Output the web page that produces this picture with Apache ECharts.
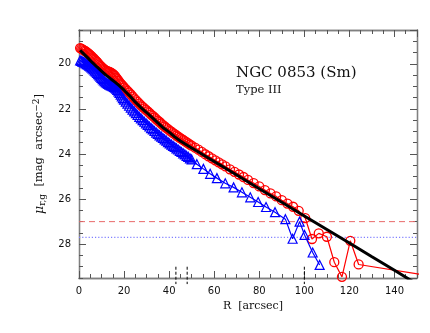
<!DOCTYPE html>
<html><head><meta charset="utf-8">
<script src="https://cdn.jsdelivr.net/npm/echarts@6/dist/echarts.min.js"></script>
<style>html,body{margin:0;padding:0;background:#fff}#c{width:430px;height:333px}</style>
</head><body><div id="c"></div>
<script>
// ---- data ----
const redR  = [0.5,1,1.5,2,2.5,3,3.5,4,4.5,5,5.5,6,6.5,7,7.5,8,8.5,9,9.5,10,10.5,11,11.5,12,12.5,13,13.5,14,14.5,15,15.5,16,16.5,17,17.5,18,18.5,19,19.5,20,
  20.75,21.5,22.25,23,23.75,24.5,25.25,26,26.75,27.5,28.25,29,29.75,30.5,31.25,32,32.75,33.5,34.25,35,35.75,36.5,37.25,38,38.75,39.5,40.25,41,41.75,42.5,43.25,44,44.75,45.5,46.25,47,47.75,48.5,49.25,50,
  51.5,53,54.5,56,57.5,59,60.5,62,63.5,65,67,69,71,73,75,77.5,80,82.5,85,87.5,90,92.5,95,97.5,100.4,103.4,106.4,110,113.3,116.7,120.4,124.1,165];
const redMu = [19.30,19.33,19.36,19.39,19.42,19.45,19.49,19.53,19.57,19.61,19.66,19.71,19.76,19.81,19.87,19.92,19.98,20.04,20.09,20.14,20.19,20.23,20.27,20.30,20.32,20.34,20.36,20.38,20.41,20.45,20.49,20.55,20.61,20.68,20.75,20.82,20.88,20.94,20.99,21.05,
  21.12,21.20,21.28,21.36,21.45,21.53,21.61,21.69,21.77,21.84,21.91,21.98,22.04,22.11,22.18,22.25,22.31,22.38,22.45,22.52,22.58,22.65,22.72,22.78,22.84,22.90,22.96,23.01,23.07,23.12,23.18,23.23,23.28,23.33,23.38,23.43,23.48,23.53,23.58,23.63,
  23.72,23.81,23.91,24.01,24.10,24.19,24.28,24.37,24.46,24.55,24.68,24.79,24.91,25.02,25.15,25.29,25.44,25.60,25.75,25.88,26.05,26.20,26.34,26.52,26.84,27.77,27.52,27.67,28.80,29.45,27.85,28.90,29.55];
const blueR  = [0.5,1,1.5,2,2.5,3,3.5,4,4.5,5,5.5,6,6.5,7,7.5,8,8.5,9,9.5,10,10.5,11,11.5,12,12.5,13,13.5,14,14.5,15,15.5,16,16.5,17,17.5,18,18.5,19,19.5,20,
  20.75,21.5,22.25,23,23.75,24.5,25.25,26,26.75,27.5,28.25,29,29.75,30.5,31.25,32,32.75,33.5,34.25,35,35.75,36.5,37.25,38,38.75,39.5,40.25,41,41.75,42.5,43.25,44,44.75,45.5,46.25,47,47.75,48.5,49.25,50,
  52.3,55.2,58.2,61.2,64.9,68.6,72.3,76,79.5,83,87,91.6,94.8,97.9,100.1,103.7,106.8];
const blueMu = [19.85,19.87,19.90,19.92,19.95,19.98,20.01,20.04,20.08,20.12,20.16,20.20,20.25,20.30,20.35,20.40,20.46,20.51,20.57,20.62,20.68,20.73,20.78,20.82,20.86,20.89,20.92,20.95,20.97,20.99,21.02,21.06,21.10,21.16,21.22,21.29,21.37,21.45,21.52,21.59,
  21.68,21.77,21.86,21.94,22.03,22.11,22.19,22.27,22.35,22.42,22.50,22.57,22.64,22.71,22.78,22.85,22.91,22.98,23.05,23.11,23.17,23.23,23.29,23.35,23.41,23.47,23.53,23.58,23.64,23.69,23.75,23.80,23.86,23.91,23.97,24.02,24.08,24.13,24.19,24.24,
  24.45,24.66,24.88,25.07,25.30,25.48,25.70,25.92,26.13,26.35,26.58,26.89,27.76,27.00,27.59,28.37,28.92];
const fitR  = [0.5,2,4,6,8,10,12,14,16,18,20,22.5,25,27.5,30,32.5,35,37.5,40,42.5,45,47.5,50,52.5,55,60,70,80,90,100,110,120,130,140,150];
const fitMu = [19.40,19.55,19.75,19.95,20.14,20.32,20.50,20.66,20.81,20.98,21.17,21.42,21.70,21.94,22.16,22.39,22.62,22.85,23.03,23.24,23.42,23.58,23.73,23.88,24.03,24.33,24.93,25.54,26.14,26.75,27.35,27.95,28.56,29.16,29.77];
const breakRadii = [43, 48, 100];
const skyLimitR = 27.0;
const skyLimitG = 27.7;
const xTickLabels = [0,20,40,60,80,100,120,140];
const yTickLabels = [20,22,24,26,28];
const titleText = 'NGC 0853 (Sm)';
const typeText = 'Type III';

// ---- chart ----
const zip = (a,b) => a.map((v,i)=>[v,b[i]]);
const redData = zip(redR, redMu).map((p,i)=> i===redR.length-1 ? {value:p, symbol:'none'} : p);
const AX = '#808080';
const X0=0, X1=150, Y0=18.5, Y1=29.5;
function xa(pos, interval, len, labels){
  return {type:'value', position:pos, min:X0, max:X1, interval:interval,
    axisLine:{show:true, onZero:false, lineStyle:{color:AX,width:1.3}},
    axisTick:{show:true, inside:true, length:len, lineStyle:{color:'#555',width:1}},
    axisLabel:{show:labels, margin:8, color:'#111', fontFamily:'DejaVu Sans', fontSize:10, showMaxLabel:false,
      formatter: v => xTickLabels.indexOf(v)>=0 ? String(v) : ''},
    splitLine:{show:false}};
}
function ya(pos, interval, len, labels){
  const o = {type:'value', position:pos, min:Y0, max:Y1, inverse:true,
    axisLine:{show:true, onZero:false, lineStyle:{color:AX,width:1.3}},
    axisTick:{show:true, inside:true, length:len, lineStyle:{color:'#555',width:1}},
    axisLabel:{show:labels, margin:8, color:'#111', fontFamily:'DejaVu Sans', fontSize:10, showMinLabel:false, showMaxLabel:false,
      formatter: v => yTickLabels.indexOf(v)>=0 ? String(v) : ''},
    splitLine:{show:false}};
  if (interval) o.interval = interval; else o.splitNumber = 5;
  return o;
}
const xAxes = [xa('bottom',5,4,false), xa('bottom',20,7,true), xa('top',5,4,false), xa('top',20,7,false)];
xAxes[1].name = 'R  [arcsec]';
xAxes[1].nameLocation = 'middle';
xAxes[1].nameGap = 18;
xAxes[1].nameTextStyle = {fontFamily:'DejaVu Serif', fontSize:11, color:'#111', padding:[0,0,0,10]};
const yAxes = [ya('left',0.5,4,false), ya('left',null,7,true), ya('right',0.5,4,false), ya('right',null,7,false)];
yAxes[1].name = '{mu|μ}{sub|r,g}  [mag  arcsec{sup|−2}]';
yAxes[1].nameLocation = 'middle';
yAxes[1].nameRotate = 90;
yAxes[1].nameGap = 32;
yAxes[1].nameTextStyle = {fontFamily:'DejaVu Serif', fontSize:11.5, color:'#111',
  rich:{mu:{fontFamily:'DejaVu Serif', fontSize:12.5, fontStyle:'italic', color:'#111'},
        sub:{fontFamily:'DejaVu Serif', fontSize:9, color:'#111', padding:[6,0,0,0]},
        sup:{fontFamily:'DejaVu Serif', fontSize:9, color:'#111', padding:[0,0,6,0]}}};

const series = [
  {type:'line', data:[[X0,skyLimitR],[X1,skyLimitR]], xAxisIndex:1, yAxisIndex:1, symbol:'none', z:1,
   lineStyle:{color:'#e86a6a', type:[6,4], width:1}, animation:false},
  {type:'line', data:[[X0,skyLimitG],[X1,skyLimitG]], xAxisIndex:1, yAxisIndex:1, symbol:'none', z:1,
   lineStyle:{color:'#7f7fff', type:[1.2,2], width:1.2}, animation:false},
  {type:'line', data:redData, xAxisIndex:1, yAxisIndex:1, symbol:'circle', symbolSize:9, z:2,
   itemStyle:{color:'transparent', borderColor:'#ff0000', borderWidth:1.3},
   lineStyle:{color:'#ff0000', width:1.2}, animation:false},
  {type:'line', data:zip(blueR, blueMu), xAxisIndex:1, yAxisIndex:1, symbol:'triangle', symbolSize:9, z:3,
   itemStyle:{color:'transparent', borderColor:'#0000ff', borderWidth:1.2},
   lineStyle:{color:'#0000ff', width:1.2}, animation:false},
  {type:'line', data:zip(fitR, fitMu), xAxisIndex:1, yAxisIndex:1, symbol:'none', z:4,
   lineStyle:{color:'#000', width:3}, animation:false}
];
breakRadii.forEach(r => series.push({type:'line', xAxisIndex:1, yAxisIndex:1, data:[[r,29.0],[r,29.77]], symbol:'none', clip:false, z:5,
  lineStyle:{color:'#000', width:1, type:[3,2]}, animation:false}));

const chart = echarts.init(document.getElementById('c'), null, {renderer:'canvas'});
chart.setOption({
  animation:false,
  backgroundColor:'#fff',
  grid:{left:79, right:13, top:30, bottom:55, containLabel:false},
  xAxis:xAxes, yAxis:yAxes, series:series,
  graphic:[
    {type:'text', left:236, top:66, style:{text:titleText, font:'15px "DejaVu Serif"', fill:'#111'}},
    {type:'text', left:236, top:84, style:{text:typeText, font:'11.5px "DejaVu Serif"', fill:'#111'}}
  ]
});
</script></body></html>
